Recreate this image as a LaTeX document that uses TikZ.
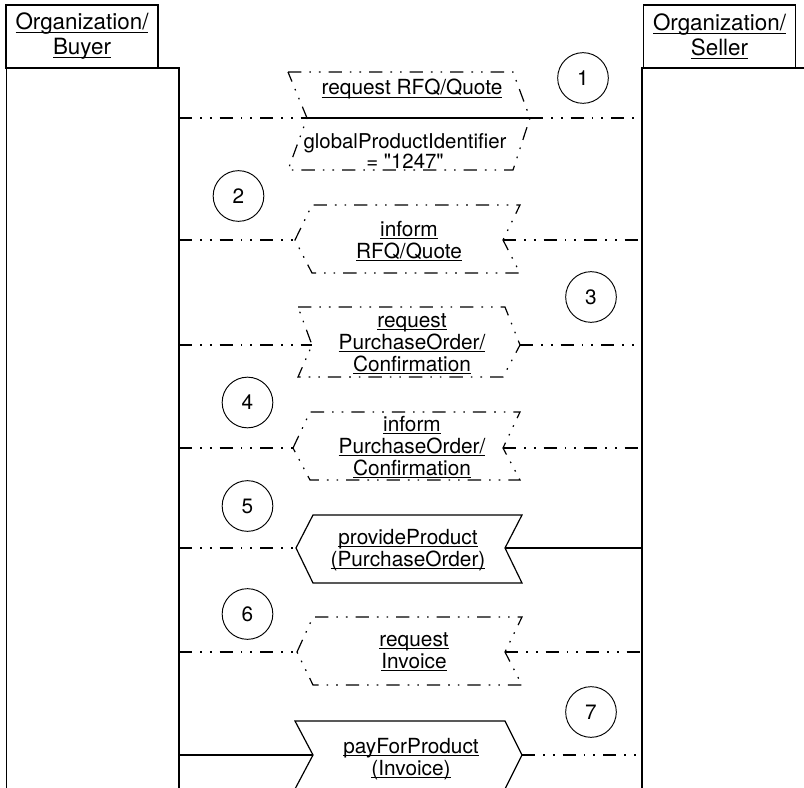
\documentclass[tikz,border=0pt]{standalone}
\usepackage{fontspec}
\setmainfont{TeX Gyre Heros}
% same face without TeX ligatures, keeps straight quotes
\newfontfamily\plainfont{TeX Gyre Heros}
\usetikzlibrary{positioning}
% underline at a fixed depth, descenders cross it
\newcommand{\ulined}[1]{\setbox0\hbox{#1}\rlap{\rule[-2.2pt]{\wd0}{0.9pt}}\box0}

\begin{document}
\begin{tikzpicture}[x=0.75pt, y=-0.75pt, line width=0.9pt,
    ddot/.style={dash pattern=on 10pt off 6pt on 1.2pt off 6pt on 1.2pt off 6pt},
    lbl/.style={font=\fontsize{15.6}{16.5}\selectfont, align=center, inner sep=0pt},
    head/.style={draw, font=\fontsize{16.8}{18.8}\selectfont, align=center,
                 minimum width=114pt, minimum height=47.25pt, inner sep=0pt},
    stepno/.style={draw, circle, line width=0.7pt, minimum size=38pt, inner sep=0pt,
                   font=\fontsize{15.6}{16.5}\selectfont}]
    \clip (0,0) rectangle (804,788);

    % Partners and lifelines
    \node[head] (buyerhead) at (82,36.5) {\ulined{Organization/}\\\ulined{Buyer}};
    \node[head] (sellerhead) at (719.5,36.5) {\ulined{Organization/}\\\ulined{Seller}};
    \draw (6.5,68) rectangle (179,800);
    \draw (642,68) rectangle (830,800);
    \coordinate (buyer) at (179,0);
    \coordinate (seller) at (642,0);

    % 1: request RFQ/Quote
    \draw[ddot] (288,72) -- (513,72) -- (530,118) -- (513,170) -- (288,170) -- (307,118) -- cycle;
    \coordinate (m1in) at (307,118);
    \coordinate (m1out) at (530,118);
    \draw (m1in) -- (m1out);
    \node[lbl, anchor=base] (m1) at (412,95) {\ulined{request RFQ/Quote}};
    \node[lbl, font=\plainfont\fontsize{15.3}{15}\selectfont] (m1arg) at (405,151) {globalProductIdentifier\\= "1247"};
    \draw[ddot] (buyer |- m1in) -- (m1in);
    \draw[ddot] (m1out) -- (seller |- m1out);
    \node[stepno] (n1) at (583,78) {1};

    % 2: inform RFQ/Quote
    \draw[ddot] (295,240) -- (312,205) -- (520,205) -- (503,240) -- (520,273) -- (312,273) -- cycle;
    \coordinate (m2out) at (295,240);
    \coordinate (m2in) at (503,240);
    \node[lbl] (m2) at (409,241) {\ulined{inform}\\\ulined{RFQ/Quote}};
    \draw[ddot] (buyer |- m2out) -- (m2out);
    \draw[ddot] (m2in) -- (seller |- m2in);
    \node[stepno] (n2) at (238.5,196) {2};

    % 3: request PurchaseOrder/Confirmation
    \draw[ddot] (298,307) -- (505,307) -- (520,345) -- (503,377) -- (298,377) -- (312,345) -- cycle;
    \coordinate (m3in) at (312,345);
    \coordinate (m3out) at (520,345);
    \node[lbl] (m3) at (412,344) {\ulined{request}\\\ulined{PurchaseOrder/}\\\ulined{Confirmation}};
    \draw[ddot] (buyer |- m3in) -- (m3in);
    \draw[ddot] (m3out) -- (seller |- m3out);
    \node[stepno] (n3) at (591,297) {3};

    % 4: inform PurchaseOrder/Confirmation
    \draw[ddot] (293,448) -- (310,412) -- (520,412) -- (503,448) -- (520,480) -- (310,480) -- cycle;
    \coordinate (m4out) at (293,448);
    \coordinate (m4in) at (503,448);
    \node[lbl] (m4) at (412,447) {\ulined{inform}\\\ulined{PurchaseOrder/}\\\ulined{Confirmation}};
    \draw[ddot] (buyer |- m4out) -- (m4out);
    \draw[ddot] (m4in) -- (seller |- m4in);
    \node[stepno] (n4) at (247.5,402.5) {4};

    % 5: provideProduct
    \draw (296,548) -- (313,515) -- (522,515) -- (505,548) -- (522,583) -- (313,583) -- cycle;
    \coordinate (m5out) at (296,548);
    \coordinate (m5in) at (505,548);
    \node[lbl] (m5) at (408,550) {\ulined{provideProduct}\\\ulined{(PurchaseOrder)}};
    \draw[ddot] (buyer |- m5out) -- (m5out);
    \draw (m5in) -- (seller |- m5in);
    \node[stepno] (n5) at (247.5,506) {5};

    % 6: request Invoice
    \draw[ddot] (297,652) -- (313,617) -- (522,617) -- (505,652) -- (522,685) -- (313,685) -- cycle;
    \coordinate (m6out) at (297,652);
    \coordinate (m6in) at (505,652);
    \node[lbl] (m6) at (414,652) {\ulined{request}\\\ulined{Invoice}};
    \draw[ddot] (buyer |- m6out) -- (m6out);
    \draw[ddot] (m6in) -- (seller |- m6in);
    \node[stepno] (n6) at (247.5,614) {6};

    % 7: payForProduct
    \draw (295,721) -- (505,721) -- (522,755) -- (505,789) -- (295,789) -- (313,755) -- cycle;
    \coordinate (m7in) at (313,755);
    \coordinate (m7out) at (522,755);
    \node[lbl] (m7) at (411,759) {\ulined{payForProduct}\\\ulined{(Invoice)}};
    \draw (buyer |- m7in) -- (m7in);
    \draw[ddot] (m7out) -- (seller |- m7out);
    \node[stepno] (n7) at (591,712) {7};
\end{tikzpicture}
\end{document}
